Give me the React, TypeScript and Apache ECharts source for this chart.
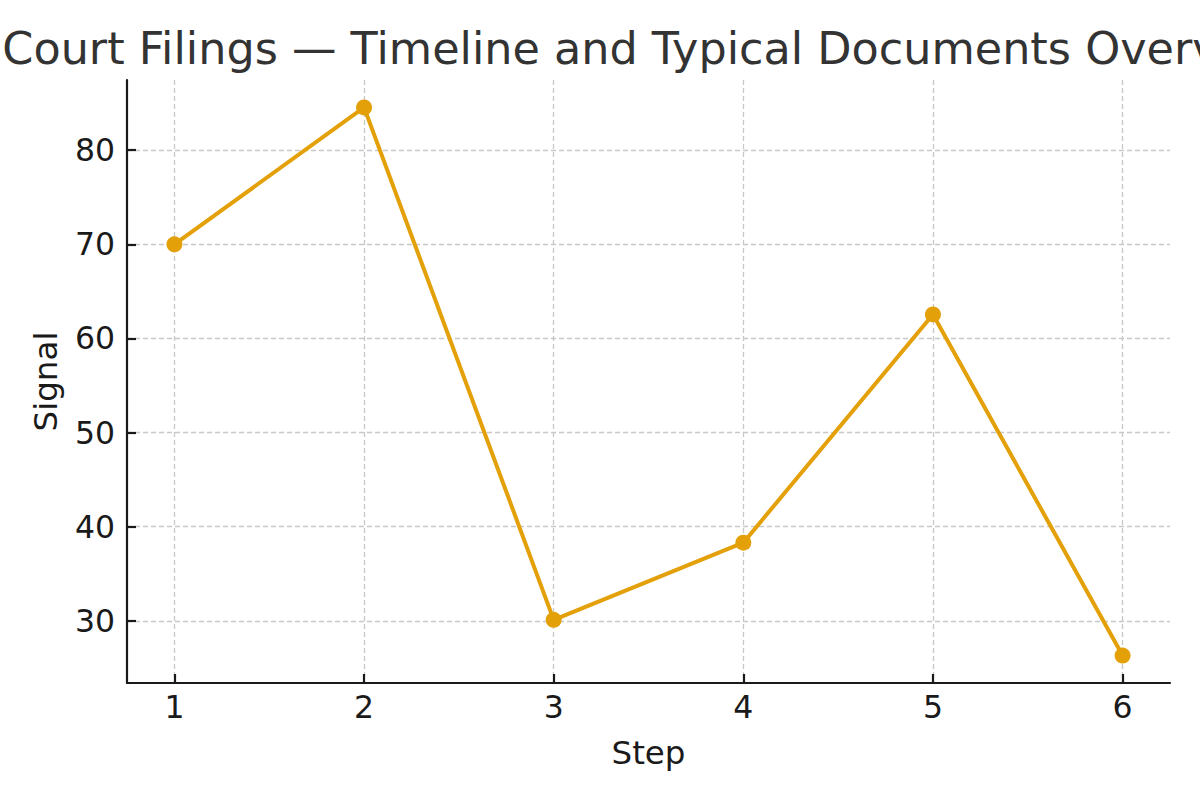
import React, { useEffect, useRef } from "react";
import * as echarts from "echarts";

const steps = [1, 2, 3, 4, 5, 6];
const signal = [70.0, 84.55, 30.1, 38.3, 62.55, 26.3];
const yTicks = [30, 40, 50, 60, 70, 80];
const titleText = "Court Filings \u2014 Timeline and Typical Documents Overview";
const xName = "Step";
const yName = "Signal";

const FONT = "DejaVu Sans";

export default function App() {
  const ref = useRef<HTMLDivElement>(null);
  useEffect(() => {
    document.body.style.margin = "0";
    const chart = echarts.init(ref.current!, null, { renderer: "svg" });
    const lo = Math.min(...signal);
    const hi = Math.max(...signal);
    const pad = (hi - lo) * 0.05;
    chart.setOption({
      animation: false,
      backgroundColor: "#ffffff",
      textStyle: { fontFamily: FONT },
      grid: { left: 127, right: 30, top: 80, bottom: 117, containLabel: false },
      graphic: [
        {
          type: "text",
          x: 648.5,
          y: 48,
          style: {
            text: titleText,
            fontFamily: FONT,
            fontSize: 44.5,
            fill: "#333333",
            textAlign: "center",
            textVerticalAlign: "middle",
          },
        },
      ],
      xAxis: {
        type: "value",
        min: 0.75,
        max: 6.25,
        name: xName,
        nameLocation: "middle",
        nameGap: 53,
        nameTextStyle: { fontFamily: FONT, fontSize: 32.5, color: "#1a1a1a" },
        axisLine: { show: true, onZero: false, lineStyle: { color: "#1a1a1a", width: 2.2 } },
        axisTick: { show: true, inside: true, length: 9, customValues: steps, lineStyle: { color: "#1a1a1a", width: 2.2 } },
        axisLabel: { customValues: steps, fontFamily: FONT, fontSize: 31.5, color: "#1a1a1a", margin: 8 },
        splitLine: { show: true, lineStyle: { color: "#c8c8c8", type: [5, 3], width: 1.3 } },
      },
      yAxis: {
        type: "value",
        min: +(lo - pad).toFixed(3),
        max: +(hi + pad).toFixed(3),
        name: yName,
        nameLocation: "middle",
        nameGap: 65,
        nameRotate: 90,
        nameTextStyle: { fontFamily: FONT, fontSize: 32.5, color: "#1a1a1a" },
        axisLine: { show: true, onZero: false, lineStyle: { color: "#1a1a1a", width: 2.2 } },
        axisTick: { show: true, inside: true, length: 9, customValues: yTicks, lineStyle: { color: "#1a1a1a", width: 2.2 } },
        axisLabel: { customValues: yTicks, fontFamily: FONT, fontSize: 31.5, color: "#1a1a1a", margin: 12 },
        splitLine: { show: true, lineStyle: { color: "#c8c8c8", type: [5, 3], width: 1.3 } },
      },
      series: [
        {
          type: "line",
          data: steps.map((s, i) => [s, signal[i]]),
          symbol: "circle",
          symbolSize: 16,
          itemStyle: { color: "#E3A008" },
          lineStyle: { color: "#E3A008", width: 4 },
        },
      ],
    });
    return () => chart.dispose();
  }, []);
  return <div ref={ref} style={{ width: 1200, height: 800 }} />;
}
